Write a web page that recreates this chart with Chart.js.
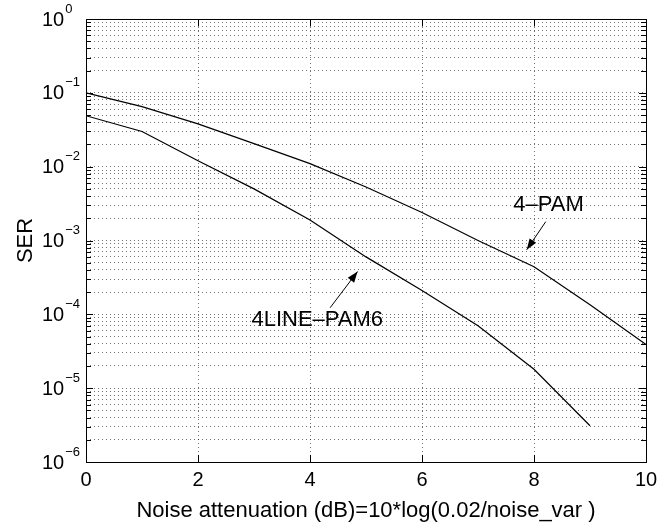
<!DOCTYPE html>
<html><head><meta charset="utf-8">
<script src="https://cdn.jsdelivr.net/npm/chart.js@4/dist/chart.umd.min.js"></script>
<style>html,body{margin:0;padding:0;background:#fff}#wrap{width:657px;height:527px;position:relative}</style>
</head><body><div id="wrap"><canvas id="c"></canvas></div>
<script>
const snrDb = [0,1,2,3,4,5,6,7,8,9,10];
const serPam4 = [0.1,0.065,0.038,0.0205,0.011,0.0053,0.0024,0.001,4.4e-4,1.35e-4,3.9e-5];
const serPam6 = [0.049,0.030,0.012,0.005,0.0019,6e-4,2.1e-4,7e-5,1.8e-5,3.1e-6,null];
const xTickValues = [0,2,4,6,8,10];
const yDecades = [-6,-5,-4,-3,-2,-1,0];
const seriesNames = ['4\u2013PAM','4LINE\u2013PAM6'];
const xTitle = 'Noise attenuation (dB)=10*log(0.02/noise_var )';
const yTitle = 'SER';

const FONT = '"Liberation Sans", Arial, Helvetica, sans-serif';

function pts(ys){ return snrDb.map((x,i)=>({x:x,y:ys[i]})).filter(p=>p.y!==null); }

const matlabPlugin = {
  id:'matlab',
  afterDraw(chart, args, opts){
    const {ctx, chartArea:a, scales:{x,y}} = chart;
    ctx.save();
    ctx.strokeStyle='#000'; ctx.lineWidth=1;
    ctx.beginPath();
    y.ticks.forEach(t=>{
      const p = Math.round(y.getPixelForValue(t.value))+0.5;
      const len = t.major ? 7 : 5;
      ctx.moveTo(a.left,p); ctx.lineTo(a.left+len,p);
      ctx.moveTo(a.right,p); ctx.lineTo(a.right-len,p);
    });
    x.ticks.forEach(t=>{
      const p = Math.round(x.getPixelForValue(t.value))+0.5;
      ctx.moveTo(p,a.bottom); ctx.lineTo(p,a.bottom-7);
      ctx.moveTo(p,a.top); ctx.lineTo(p,a.top+7);
    });
    ctx.stroke();
    ctx.strokeRect(Math.round(a.left)+0.5, Math.round(a.top)+0.5, Math.round(a.right-a.left), Math.round(a.bottom-a.top));
    // y tick labels 10^n
    ctx.fillStyle='#000';
    ctx.textAlign='left'; ctx.textBaseline='middle';
    yDecades.forEach(n=>{
      const p = y.getPixelForValue(Math.pow(10,n));
      ctx.font = '20px '+FONT;
      const bx = a.left - 44;
      ctx.fillText('10', bx, p+1);
      const w = ctx.measureText('10').width;
      ctx.font = '13px '+FONT;
      ctx.fillText(n===0?'0':'\u2212'+Math.abs(n), bx+w+1, p-10);
    });
    // annotations
    ctx.font = '22px '+FONT;
    ctx.textAlign='center'; ctx.textBaseline='middle';
    opts.notes.forEach((nt,i)=>{
      ctx.fillText(seriesNames[nt.series], x.getPixelForValue(nt.text.x), y.getPixelForValue(nt.text.y));
      const x1=x.getPixelForValue(nt.from.x), y1=y.getPixelForValue(nt.from.y);
      const x2=x.getPixelForValue(nt.to.x), y2=y.getPixelForValue(nt.to.y);
      ctx.beginPath(); ctx.moveTo(x1,y1); ctx.lineTo(x2,y2); ctx.stroke();
      const ang=Math.atan2(y2-y1,x2-x1), L=11, W=4;
      ctx.beginPath();
      ctx.moveTo(x2,y2);
      ctx.lineTo(x2-L*Math.cos(ang)+W*Math.sin(ang), y2-L*Math.sin(ang)-W*Math.cos(ang));
      ctx.lineTo(x2-L*Math.cos(ang)-W*Math.sin(ang), y2-L*Math.sin(ang)+W*Math.cos(ang));
      ctx.closePath(); ctx.fill();
    });
    ctx.restore();
  }
};

new Chart(document.getElementById('c'), {
  type:'line',
  data:{datasets:[
    {label:seriesNames[0], data:pts(serPam4), borderColor:'#000', borderWidth:1.2, pointRadius:0, tension:0, fill:false},
    {label:seriesNames[1], data:pts(serPam6), borderColor:'#000', borderWidth:1.2, pointRadius:0, tension:0, fill:false}
  ]},
  options:{
    responsive:true, maintainAspectRatio:false, animation:false,
    layout:{padding:{left:0,right:0,top:19,bottom:0}},
    plugins:{
      legend:{display:false}, tooltip:{enabled:false},
      matlab:{notes:[
        {series:0, text:{x:8.26,y:3.05e-3}, from:{x:8.21,y:1.8e-3}, to:{x:7.87,y:7.5e-4}},
        {series:1, text:{x:4.13,y:8.4e-5}, from:{x:4.36,y:1.23e-4}, to:{x:4.85,y:3.8e-4}}
      ]}
    },
    scales:{
      x:{type:'linear', min:0, max:10,
        afterBuildTicks:s=>{ s.ticks = xTickValues.map(v=>({value:v})); },
        afterFit:s=>{ s.height = 65; s.paddingLeft = 0; s.paddingRight = 11; },
        grid:{color:'rgba(0,0,0,0.55)', lineWidth:1, drawTicks:false},
        border:{display:false, dash:[1,3]},
        ticks:{color:'#000', font:{family:FONT,size:20}, padding:6, maxRotation:0},
        title:{display:true, text:xTitle, color:'#000', font:{family:FONT,size:22}, padding:{top:0,bottom:3}}
      },
      y:{type:'logarithmic', min:1e-6, max:1,
        afterBuildTicks:s=>{
          const t=[];
          yDecades.forEach(n=>{
            if(n===0){ t.push({value:1, major:true}); return; }
            for(let k=1;k<=9;k++) t.push({value:k*Math.pow(10,n), major:k===1});
          });
          s.ticks=t;
        },
        afterFit:s=>{ s.width = 86; },
        grid:{color:'rgba(0,0,0,0.55)', lineWidth:1, drawTicks:false},
        border:{display:false, dash:[1,3]},
        ticks:{display:false},
        title:{display:true, text:yTitle, color:'#000', font:{family:FONT,size:22}, padding:{top:13,bottom:0}}
      }
    }
  },
  plugins:[matlabPlugin]
});
</script>
</body></html>
